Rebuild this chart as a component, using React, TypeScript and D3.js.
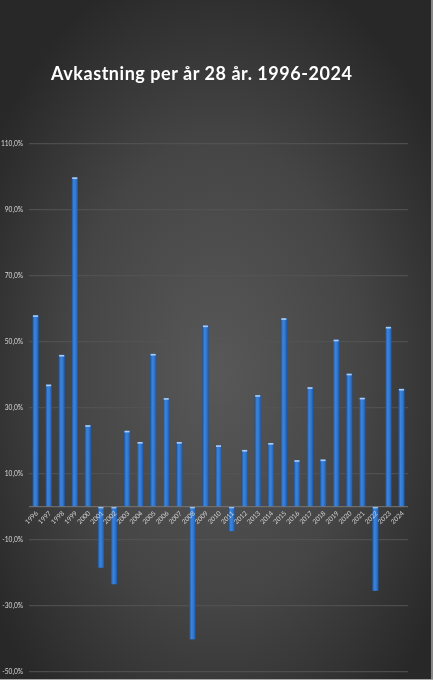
import React from "react";
import * as d3 from "d3";

const years = ["1996","1997","1998","1999","2000","2001","2002","2003","2004","2005","2006","2007","2008","2009","2010","2011","2012","2013","2014","2015","2016","2017","2018","2019","2020","2021","2022","2023","2024"];
const returns = [58.0, 37.0, 46.0, 99.8, 24.7, -18.5, -23.5, 23.0, 19.6, 46.3, 32.9, 19.6, -40.2, 54.9, 18.6, -7.4, 17.2, 33.8, 19.3, 57.1, 14.1, 36.2, 14.3, 50.6, 40.3, 33.0, -25.5, 54.5, 35.7];
const yTicks = [-50, -30, -10, 10, 30, 50, 70, 90, 110];
const title = "Avkastning per år 28 år. 1996-2024";

const W = 433;
const H = 680;

export default function App() {
  const x = d3.scaleBand<string>().domain(years).range([29, 408]).paddingInner(0.52).paddingOuter(0.26);
  const y = d3.scaleLinear().domain([-50, 110]).range([671.7, 143.7]);
  const fmt = (v: number) => v.toFixed(1).replace(".", ",") + "%";
  const bw = x.bandwidth();
  return (
    <svg width={W} height={H} style={{ position: "fixed", left: 0, top: 0 }} fontFamily="Lato, 'Open Sans', sans-serif">
      <defs>
        <radialGradient id="bg" cx="50%" cy="55%" r="62%">
          <stop offset="0%" stopColor="#585858" />
          <stop offset="55%" stopColor="#454545" />
          <stop offset="100%" stopColor="#282828" />
        </radialGradient>
        <linearGradient id="bar" x1="0" x2="1" y1="0" y2="0">
          <stop offset="0%" stopColor="#1c4f96" />
          <stop offset="35%" stopColor="#3a84dc" />
          <stop offset="65%" stopColor="#3379d0" />
          <stop offset="100%" stopColor="#1f58a6" />
        </linearGradient>
      </defs>
      <rect x={0} y={0} width={W} height={H} fill="url(#bg)" />
      <line x1={W - 1} x2={W - 1} y1={0} y2={H} stroke="#a8a8a8" strokeWidth={1.5} />
      <line x1={0} x2={W} y1={H - 0.5} y2={H - 0.5} stroke="#a8a8a8" strokeWidth={1} />
      <text x={51} y={80} fill="#ffffff" fontSize={18} fontWeight={700} textLength={301} lengthAdjust="spacing" fontFamily="Lato, 'Open Sans', sans-serif">{title}</text>
      {yTicks.map((t) => (
        <g key={t}>
          <line x1={29} x2={408} y1={y(t)} y2={y(t)} stroke="#545454" strokeWidth={1} />
          <text x={23} y={y(t)} dy="0.35em" textAnchor="end" fill="#d9d9d9" fontSize={6.6}>{fmt(t)}</text>
        </g>
      ))}
      {years.map((yr, i) => {
        const v = returns[i];
        const x0 = x(yr) as number;
        const top = Math.min(y(v), y(0));
        const h = Math.abs(y(v) - y(0));
        const capY = v >= 0 ? y(v) : y(0);
        return (
          <g key={yr}>
            <rect x={x0} y={top} width={bw} height={h} fill="url(#bar)" />
            <rect x={x0 + 0.6} y={capY} width={bw - 1.2} height={1.6} fill="#a9cdf6" />
          </g>
        );
      })}
      <line x1={29} x2={408} y1={y(0)} y2={y(0)} stroke="#777777" strokeWidth={1} />
      {years.map((yr) => {
        const cx = (x(yr) as number) + bw / 2 + 3;
        const ty = y(0) + 7;
        return (
          <text key={"l" + yr} x={cx} y={ty} textAnchor="end" fill="#d4d4d4" fontSize={6.6} transform={`rotate(-45 ${cx} ${ty})`}>{yr}</text>
        );
      })}
    </svg>
  );
}
